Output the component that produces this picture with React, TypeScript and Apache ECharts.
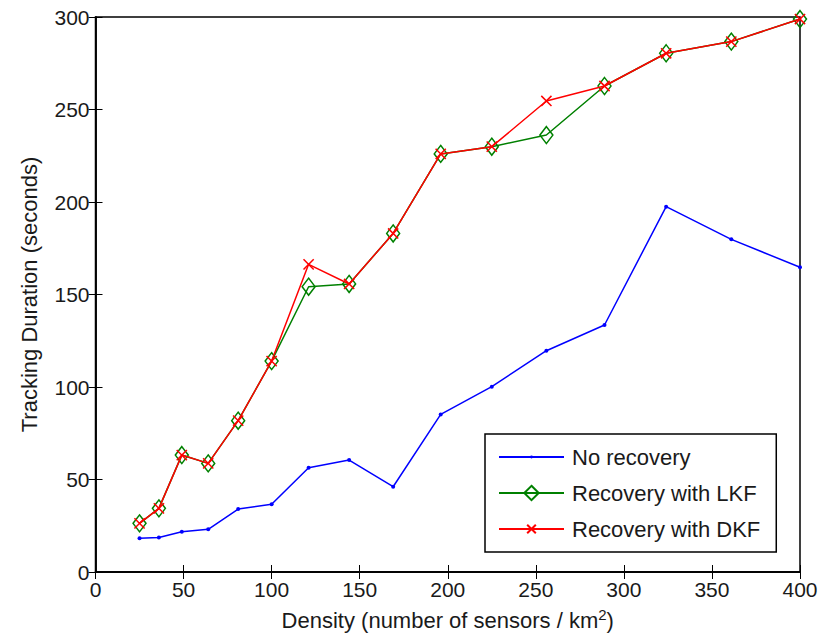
import React, { useEffect, useRef } from "react";
import * as echarts from "echarts";

const densities = [25, 36, 49, 64, 81, 100, 121, 144, 169, 196, 225, 256, 289, 324, 361, 400];
const noRecovery = [18.2, 18.6, 21.8, 23.1, 34.0, 36.6, 56.4, 60.5, 46.1, 85.2, 100.2, 119.6, 133.5, 197.5, 179.8, 164.7];
const recoveryLKF = [26.3, 34.4, 63.2, 58.7, 81.8, 114.0, 154.2, 155.7, 183.0, 226.0, 229.9, 236.2, 262.7, 280.4, 286.7, 298.9];
const recoveryDKF = [26.3, 34.4, 63.2, 58.7, 81.8, 114.0, 166.3, 155.7, 183.0, 226.0, 229.9, 254.6, 262.7, 280.4, 286.7, 298.9];
const xTicks = [0, 50, 100, 150, 200, 250, 300, 350, 400];
const yTicks = [0, 50, 100, 150, 200, 250, 300];
const seriesNames = ["No recovery", "Recovery with LKF", "Recovery with DKF"];

const FONT = "'Liberation Sans', Arial, Helvetica, sans-serif";
const TXT = "#1a1a1a";

// padded symbol paths so that the mark stays small inside its box
const DOT = "path://M0,0M20,20M8,10a2,2 0 1,0 4,0a2,2 0 1,0 -4,0Z";
const CROSS = "path://M0,0M20,20M4,4L16,16M16,4L4,16";

function pairs(ys: number[]) {
  return densities.map((x, i) => [x, ys[i]]);
}

export default function App() {
  const ref = useRef<HTMLDivElement>(null);
  useEffect(() => {
    if (!ref.current) return;
    const chart = echarts.init(ref.current, undefined, { renderer: "svg" });
    const tickBase = { show: true, inside: true, length: 7, lineStyle: { color: "#000", width: 1 } };
    chart.setOption({
      animation: false,
      backgroundColor: "#fff",
      textStyle: { fontFamily: FONT },
      grid: {
        left: 95.5,
        right: 34,
        top: 17,
        bottom: 65,
        show: true,
        borderColor: "#000",
        borderWidth: 1.5,
        backgroundColor: "transparent",
      },
      xAxis: [
        {
          type: "value",
          min: xTicks[0],
          max: xTicks[xTicks.length - 1],
          interval: 50,
          position: "bottom",
          axisLine: { show: true, lineStyle: { color: "#000", width: 1.5 } },
          axisTick: tickBase,
          splitLine: { show: false },
          axisLabel: { color: TXT, fontSize: 21, margin: 7, fontFamily: FONT },
          name: "Density (number of sensors / km{sup|2})",
          nameLocation: "middle",
          nameGap: 35,
          nameTextStyle: {
            color: TXT,
            fontSize: 22,
            fontFamily: FONT,
            rich: {
              sup: { fontSize: 15, fontFamily: FONT, color: TXT, verticalAlign: "top", padding: [0, 0, 12, 0] },
            },
          },
        },
        {
          type: "value",
          min: xTicks[0],
          max: xTicks[xTicks.length - 1],
          interval: 50,
          position: "top",
          axisLine: { show: true, lineStyle: { color: "#000", width: 1.5 } },
          axisTick: tickBase,
          splitLine: { show: false },
          axisLabel: { show: false },
        },
      ],
      yAxis: [
        {
          type: "value",
          min: yTicks[0],
          max: yTicks[yTicks.length - 1],
          interval: 50,
          position: "left",
          axisLine: { show: true, lineStyle: { color: "#000", width: 1.5 } },
          axisTick: tickBase,
          splitLine: { show: false },
          axisLabel: { color: TXT, fontSize: 21, margin: 6, fontFamily: FONT },
          name: "Tracking Duration (seconds)",
          nameLocation: "middle",
          nameGap: 55,
          nameTextStyle: { color: TXT, fontSize: 22, fontFamily: FONT },
        },
        {
          type: "value",
          min: yTicks[0],
          max: yTicks[yTicks.length - 1],
          interval: 50,
          position: "right",
          axisLine: { show: true, lineStyle: { color: "#000", width: 1.5 } },
          axisTick: tickBase,
          splitLine: { show: false },
          axisLabel: { show: false },
        },
      ],
      legend: {
        orient: "vertical",
        left: 485,
        top: 434,
        padding: [12, 16, 12, 13],
        itemGap: 14,
        itemWidth: 65,
        itemHeight: 18,
        backgroundColor: "#fff",
        borderColor: "#000",
        borderWidth: 1.5,
        borderRadius: 0,
        textStyle: { color: TXT, fontSize: 22, fontFamily: FONT, padding: [0, 0, 0, 3] },
        data: seriesNames,
      },
      series: [
        {
          name: seriesNames[0],
          type: "line",
          data: pairs(noRecovery),
          symbol: DOT,
          symbolSize: 20,
          showAllSymbol: true,
          lineStyle: { color: "#0000ff", width: 1.5 },
          itemStyle: { color: "#0000ff" },
          z: 2,
        },
        {
          name: seriesNames[1],
          type: "line",
          data: pairs(recoveryLKF),
          symbol: "diamond",
          symbolSize: [13, 17],
          showAllSymbol: true,
          lineStyle: { color: "#008000", width: 1.5 },
          itemStyle: { color: "transparent", borderColor: "#008000", borderWidth: 1.5 },
          z: 3,
        },
        {
          name: seriesNames[2],
          type: "line",
          data: pairs(recoveryDKF),
          symbol: CROSS,
          symbolSize: 17,
          showAllSymbol: true,
          lineStyle: { color: "#ff0000", width: 1.5 },
          itemStyle: { color: "transparent", borderColor: "#ff0000", borderWidth: 1.5 },
          z: 4,
        },
      ],
    });
    return () => chart.dispose();
  }, []);
  return (
    <div
      ref={ref}
      style={{ position: "fixed", left: 0, top: 0, width: 834, height: 637, background: "#fff" }}
    />
  );
}
